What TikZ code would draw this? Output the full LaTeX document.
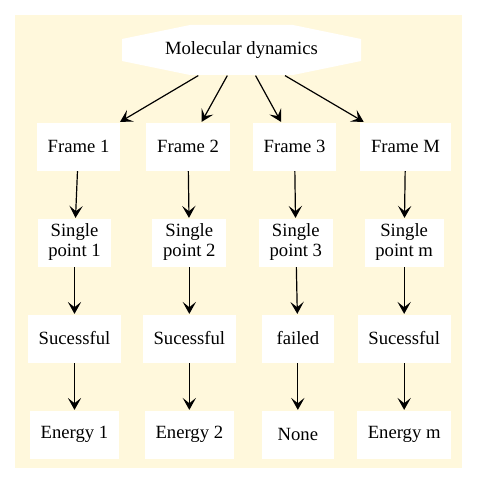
\documentclass[tikz,border=0pt]{standalone}
\usepackage{fontspec}
\setmainfont{Liberation Serif}
\usepackage{xcolor}
\usetikzlibrary{arrows.meta,positioning}
\definecolor{cornsilk}{RGB}{255,248,220}

\begin{document}
\begin{tikzpicture}[x=0.75pt, y=-0.75pt, ->, >={Stealth[length=9pt,width=10pt,inset=4pt]}, line width=0.9pt, node distance=72pt,
  box/.style={fill=white, minimum width=54pt, minimum height=36pt, inner xsep=8pt, inner ysep=0pt, align=center, font=\fontsize{14}{15}\selectfont}]
\useasboundingbox (0,0) rectangle (477,485);
\fill[cornsilk] (15,15) rectangle (462,468);

% top octagon
\fill[white] (122,39) -- (190,25) -- (293,25) -- (361,39) -- (361,61) -- (293,75) -- (190,75) -- (122,61) -- cycle;
\node[minimum width=179.25pt, minimum height=37.5pt, inner sep=0pt, font=\fontsize{14}{15}\selectfont] (md) at (241.5,50) {Molecular dynamics};

\node[box] (f1) at (78.5,146.5) {Frame 1};
\node[box] (f2) at (188,146.5) {Frame 2};
\node[box] (f3) at (294.5,146.5) {Frame 3};
\node[box] (fm) at (405.5,146.5) {Frame M};

\node[box] (p1) [below of=f1, xshift=-3pt] {Single\\point 1};
\node[box] (p2) [below of=f2, xshift=1pt] {Single\\point 2};
\node[box] (p3) [below of=f3, xshift=1pt] {Single\\point 3};
\node[box] (pm) [below of=fm, xshift=-1pt] {Single\\point m};

\node[box] (r1) [below of=p1] {Sucessful};
\node[box] (r2) [below of=p2] {Sucessful};
\node[box] (r3) [below of=p3, xshift=1.5pt] {failed};
\node[box] (rm) [below of=pm] {Sucessful};

\node[box] (e1) [below of=r1] {Energy 1};
\node[box] (e2) [below of=r2] {Energy 2};
\node[box] (e3) [below of=r3] {None};
\node[box] (em) [below of=rm] {Energy m};

\path
(md) edge (f1)
(md) edge (f2)
(md) edge (f3)
(md) edge (fm)

(f1) edge (p1)
(f2) edge (p2)
(f3) edge (p3)
(fm) edge (pm)

(p1) edge (r1)
(p2) edge (r2)
(p3) edge (r3)
(pm) edge (rm)

(r1) edge (e1)
(r2) edge (e2)
(r3) edge (e3)
(rm) edge (em);
\end{tikzpicture}
\end{document}
